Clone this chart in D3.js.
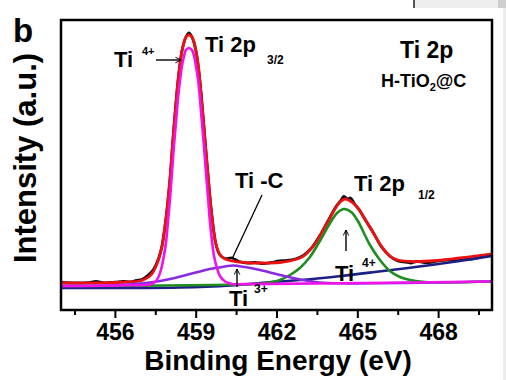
<!DOCTYPE html>
<html>
<head>
<meta charset="utf-8">
<script src="https://cdn.jsdelivr.net/npm/d3@7"></script>
<style>
  body { margin: 0; background: #fff; }
  svg { display: block; }
</style>
</head>
<body>
<script>
// Ti 2p XPS spectrum of H-TiO2@C (a.u.)
const rawE = [454, 454.5, 455, 455.3, 455.6, 456, 456.3, 456.6, 456.8, 457, 457.15, 457.3, 457.42, 457.53, 457.64, 457.75, 457.9, 458.05, 458.19, 458.34, 458.49, 458.64, 458.75, 458.86, 459.01, 459.16, 459.31, 459.46, 459.61, 459.75, 459.9, 460.1, 460.35, 460.6, 460.9, 461.2, 461.5, 461.8, 462.1, 462.4, 462.7, 463, 463.3, 463.6, 463.9, 464.2, 464.4, 464.5, 464.65, 464.75, 464.9, 465.1, 465.3, 465.6, 465.9, 466.2, 466.5, 466.8, 467, 467.2, 467.5, 467.8, 468.1, 468.4, 468.7, 469, 469.2, 469.5, 469.8, 470];
const rawI = [27.5, 27, 27.3, 28.5, 27.2, 27.8, 28.6, 28.2, 29.6, 30.5, 33, 36.5, 40, 45.5, 53, 64, 92, 132, 182, 228, 259, 273, 277, 273, 259, 228, 182, 134, 92, 66, 55, 51.5, 52, 48.5, 47, 47.5, 46.5, 47.5, 49, 49.5, 51, 54.5, 62, 74, 88.5, 103, 110, 113.5, 111, 112, 106, 99, 90, 77, 63, 54, 49, 48, 47, 48.5, 47.5, 48, 49.5, 50, 50.5, 52, 51, 52.5, 54, 55];

const fitE = [454, 455.45, 456.56, 456.93, 457.12, 457.3, 457.42, 457.53, 457.64, 457.75, 457.82, 457.9, 457.97, 458.05, 458.12, 458.19, 458.27, 458.34, 458.42, 458.49, 458.57, 458.64, 458.75, 458.86, 458.94, 459.01, 459.09, 459.16, 459.23, 459.31, 459.38, 459.46, 459.53, 459.61, 459.68, 459.75, 459.83, 459.94, 460.09, 460.35, 460.64, 461.02, 461.39, 461.76, 462.13, 462.5, 462.87, 463.06, 463.24, 463.43, 463.61, 463.8, 463.99, 464.17, 464.36, 464.54, 464.73, 464.92, 465.1, 465.28, 465.47, 465.66, 465.84, 466.03, 466.21, 466.4, 466.58, 466.96, 467.33, 467.7, 468.18, 468.81, 469.44, 470];
const fitI = [27, 27, 28, 29, 31, 34, 38, 44, 52, 64, 76, 92, 110, 132, 158, 182, 206, 228, 246, 259, 268, 273, 275, 273, 268, 259, 246, 228, 206, 182, 158, 134, 112, 92, 77, 66, 59, 54, 51, 49, 48, 47, 47, 47, 47.5, 49, 52, 55, 60, 66, 74, 83, 92, 101, 108, 111, 109, 105, 99, 91, 83, 74, 66, 59, 54, 51, 49.5, 48.5, 48.5, 49, 50, 52, 54, 56];

const bgE = [454, 458.4, 460.3, 461.4, 462.9, 464.4, 465.8, 467.3, 468.8, 470];
const bgI = [22, 22.5, 24.5, 27, 30, 34, 38.5, 43.5, 49, 54];

// Ti4+ 2p3/2
const p32E = [454, 456.56, 457.3, 457.49, 457.6, 457.71, 457.82, 457.9, 457.97, 458.05, 458.12, 458.19, 458.27, 458.34, 458.42, 458.49, 458.57, 458.64, 458.75, 458.86, 458.94, 459.01, 459.09, 459.16, 459.23, 459.31, 459.38, 459.46, 459.53, 459.61, 459.68, 459.79, 459.9, 460.09, 460.35, 460.83, 470];
const p32I = [24, 24.7, 25.5, 28, 32, 40, 54, 68, 88, 112, 138, 163, 188, 211, 230, 244, 254, 260, 262, 260, 254, 244, 230, 211, 188, 163, 138, 112, 88, 68, 54, 42, 34, 28.5, 26, 25.9, 28.5];

// Ti3+ / Ti-C
const tiCE = [454, 455.82, 456.56, 457.3, 458.05, 458.79, 459.53, 460.09, 460.38, 460.83, 461.39, 462.13, 462.87, 463.61, 464.36, 470];
const tiCI = [24, 24.5, 25.5, 27.5, 31, 36, 41, 43.5, 44.5, 43, 40, 35, 30.5, 27.5, 26.7, 28.5];

// Ti4+ 2p1/2
const p12E = [454, 461.02, 461.57, 462.13, 462.5, 462.87, 463.24, 463.61, 463.99, 464.25, 464.51, 464.77, 465.02, 465.28, 465.47, 465.84, 466.21, 466.58, 466.96, 467.51, 470];
const p12I = [24, 25.8, 26.7, 30, 35, 42, 53, 69, 87, 97, 101, 98, 89, 75, 65, 50, 39, 33, 30, 28, 28.5];

const majorTicks = [456, 459, 462, 465, 468];
const minorTicks = [454.5, 457.5, 460.5, 463.5, 466.5, 469.5];

const width = 506, height = 380;
const margin = {top: 20, right: 14, bottom: 70, left: 61};
const font = "Arial, 'Liberation Sans', sans-serif";

const x = d3.scaleLinear().domain([454, 470]).range([margin.left, width - margin.right]);
const y = d3.scaleLinear().domain([0, 290]).range([height - margin.bottom, margin.top]);

const svg = d3.select("body").append("svg")
    .attr("width", width)
    .attr("height", height)
    .style("font-family", font)
    .style("font-weight", "bold");

// bits of the page the figure was cut from
svg.append("rect").attr("x", 414).attr("y", 0).attr("width", 84).attr("height", 8).attr("fill", "#eeeeee");
svg.append("line").attr("x1", 414).attr("x2", 414).attr("y1", 0).attr("y2", 8).attr("stroke", "#222").attr("stroke-width", 1.5);
svg.append("rect").attr("x", 498).attr("y", 0).attr("width", 8).attr("height", 8).attr("fill", "#cfcfcf");
svg.append("rect").attr("x", 503).attr("y", 8).attr("width", 3).attr("height", 372).attr("fill", "#ececec");

const defs = svg.append("defs");
defs.append("marker")
    .attr("id", "arrow")
    .attr("viewBox", "0 0 10 10")
    .attr("refX", 9).attr("refY", 5)
    .attr("markerWidth", 7).attr("markerHeight", 7)
    .attr("markerUnits", "userSpaceOnUse")
    .attr("orient", "auto")
  .append("path")
    .attr("d", "M1,1 L9,5 L1,9")
    .attr("fill", "none")
    .attr("stroke", "#000")
    .attr("stroke-width", 1.4);

const line = (E, I) => d3.line()
    .x(i => x(E[i]))
    .y(i => y(I[i]))
    .curve(d3.curveCatmullRom.alpha(0.5))(d3.range(E.length));

const plot = svg.append("g");

const series = [
  {E: rawE, I: rawI, color: "#111111", w: 2.8},
  {E: fitE, I: fitI, color: "#ee1111", w: 2.8},
  {E: bgE, I: bgI, color: "#1c1f86", w: 2.6},
  {E: p12E, I: p12I, color: "#1e8c1e", w: 2.6},
  {E: tiCE, I: tiCI, color: "#8a2be2", w: 2.6},
  {E: p32E, I: p32I, color: "#f012e8", w: 2.6}
];

plot.selectAll("path.curve")
  .data(series)
  .join("path")
    .attr("class", "curve")
    .attr("fill", "none")
    .attr("stroke", d => d.color)
    .attr("stroke-width", d => d.w)
    .attr("stroke-linejoin", "round")
    .attr("d", d => line(d.E, d.I));

// axes
const xAxis = svg.append("g")
    .attr("transform", `translate(0,${height - margin.bottom})`)
    .call(d3.axisBottom(x).tickValues(majorTicks).tickSize(8).tickPadding(6).tickFormat(d3.format("d")));
xAxis.select(".domain").remove();
xAxis.selectAll("line").attr("stroke", "#000").attr("stroke-width", 2);
xAxis.selectAll("text")
    .attr("fill", "#000")
    .style("font-size", "23px")
    .style("font-family", font)
    .style("font-weight", "bold");

const xMinor = svg.append("g")
    .attr("transform", `translate(0,${height - margin.bottom})`)
    .call(d3.axisBottom(x).tickValues(minorTicks).tickSize(5).tickFormat(""));
xMinor.select(".domain").remove();
xMinor.selectAll("line").attr("stroke", "#000").attr("stroke-width", 2);

svg.append("rect")
    .attr("x", margin.left)
    .attr("y", margin.top)
    .attr("width", width - margin.left - margin.right)
    .attr("height", height - margin.top - margin.bottom)
    .attr("fill", "none")
    .attr("stroke", "#000")
    .attr("stroke-width", 2.5);

svg.append("text")
    .attr("x", 278).attr("y", 370)
    .attr("text-anchor", "middle")
    .style("font-size", "28px")
    .text("Binding Energy (eV)");

svg.append("text")
    .attr("transform", "translate(36,158) rotate(-90)")
    .attr("text-anchor", "middle")
    .style("font-size", "31px")
    .text("Intensity (a.u.)");

svg.append("text")
    .attr("x", 13).attr("y", 42)
    .style("font-size", "33px")
    .text("b");

// annotations
const label = (tx, ty, size, str) => svg.append("text")
    .attr("x", tx).attr("y", ty)
    .style("font-size", size + "px")
    .text(str);

label(114, 67, 22, "Ti");
label(142, 55, 11, "4+");
label(205, 52, 22, "Ti 2p");
label(267, 64, 12, "3/2");
label(400, 58, 23, "Ti 2p");

const ht = svg.append("text").attr("x", 381).attr("y", 87).style("font-size", "18px");
ht.append("tspan").text("H-TiO");
ht.append("tspan").attr("dy", 4).style("font-size", "11px").text("2");
ht.append("tspan").attr("dy", -4).text("@C");

label(235, 188, 22, "Ti -C");
label(354, 191, 22, "Ti 2p");
label(418, 199, 12, "1/2");
label(335, 281, 22, "Ti");
label(362, 267, 12, "4+");
label(229, 306, 22, "Ti");
label(254, 293, 12, "3+");

const arrows = [
  [156, 60, 181, 60],
  [346, 251, 346, 230],
  [237, 287, 237, 269]
];
svg.selectAll("line.arrow")
  .data(arrows)
  .join("line")
    .attr("class", "arrow")
    .attr("x1", d => d[0]).attr("y1", d => d[1])
    .attr("x2", d => d[2]).attr("y2", d => d[3])
    .attr("stroke", "#000")
    .attr("stroke-width", 1.4)
    .attr("marker-end", "url(#arrow)");

svg.append("line")
    .attr("x1", 262).attr("y1", 195)
    .attr("x2", 232).attr("y2", 259)
    .attr("stroke", "#000")
    .attr("stroke-width", 1.3);
</script>
</body>
</html>
